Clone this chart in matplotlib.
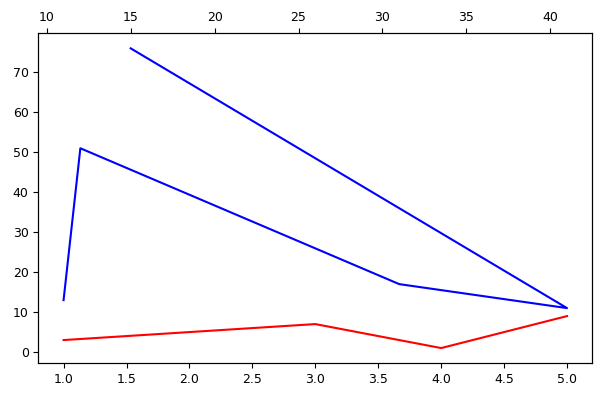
import matplotlib
matplotlib.use("Agg")
import matplotlib.pyplot as plt

# bottom axis series (red)
red_x = [1, 3, 4, 5]
red_y = [3, 7, 1, 9]

# top axis series (blue)
blue_x = [11, 12, 31, 41, 15]
blue_y = [13, 51, 17, 11, 76]

plt.rcParams["font.size"] = 9

fig, ax = plt.subplots(figsize=(6, 4.07), dpi=100)
fig.subplots_adjust(left=0.064, right=0.987, top=0.918, bottom=0.108)

ax.plot(red_x, red_y, color="red")
ax2 = ax.twiny()
ax2.plot(blue_x, blue_y, color="blue")

fig.savefig("out.png")
